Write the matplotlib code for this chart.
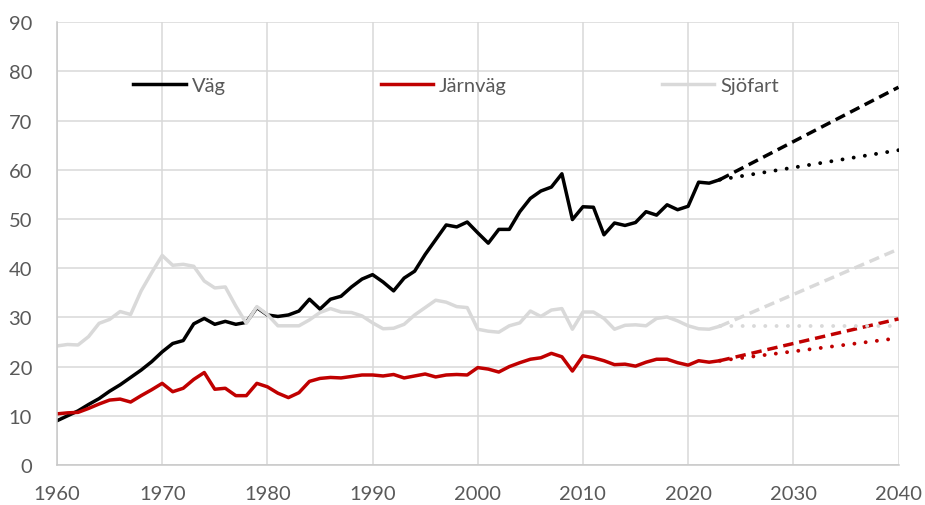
import numpy as np
import matplotlib.pyplot as plt

plt.rcParams['font.family'] = ['Lato', 'DejaVu Sans']

# Historical series 1960-2023
years = np.arange(1960, 2024)
vag = [9.0, 10.0, 11.0, 12.3, 13.5, 15.0, 16.3, 17.8, 19.3, 21.0,
       23.0, 24.7, 25.3, 28.7, 29.8, 28.6, 29.2, 28.6, 29.0, 32.0,
       30.5, 30.2, 30.5, 31.3, 33.7, 31.7, 33.7, 34.3, 36.2, 37.8,
       38.7, 37.2, 35.4, 38.0, 39.4, 42.8, 45.8, 48.8, 48.4, 49.4,
       47.2, 45.1, 47.9, 47.9, 51.5, 54.2, 55.7, 56.5, 59.2, 49.9,
       52.5, 52.4, 46.8, 49.2, 48.7, 49.3, 51.5, 50.8, 52.9, 51.9,
       52.6, 57.5, 57.3, 58.0]
jarnvag = [10.4, 10.6, 10.7, 11.5, 12.4, 13.2, 13.4, 12.8, 14.1, 15.3,
           16.6, 14.9, 15.6, 17.4, 18.8, 15.4, 15.6, 14.1, 14.1, 16.6,
           15.9, 14.6, 13.7, 14.7, 17.0, 17.6, 17.8, 17.7, 18.0, 18.3,
           18.3, 18.1, 18.4, 17.7, 18.1, 18.5, 17.9, 18.3, 18.4, 18.3,
           19.8, 19.5, 18.9, 20.0, 20.8, 21.5, 21.8, 22.7, 22.0, 19.1,
           22.2, 21.8, 21.2, 20.4, 20.5, 20.1, 20.9, 21.5, 21.5, 20.8,
           20.3, 21.2, 20.9, 21.2]
sjofart = [24.2, 24.5, 24.4, 26.1, 28.8, 29.6, 31.2, 30.6, 35.4, 39.1,
           42.6, 40.6, 40.8, 40.4, 37.4, 36.0, 36.2, 32.3, 28.8, 32.2,
           30.6, 28.3, 28.3, 28.3, 29.5, 31.0, 31.8, 31.1, 31.0, 30.3,
           28.9, 27.7, 27.8, 28.6, 30.5, 32.0, 33.5, 33.1, 32.2, 32.0,
           27.6, 27.2, 27.0, 28.3, 28.9, 31.3, 30.2, 31.5, 31.8, 27.6,
           31.1, 31.1, 29.8, 27.6, 28.4, 28.5, 28.3, 29.8, 30.1, 29.3,
           28.3, 27.7, 27.6, 28.2]

# Projections 2023-2040 (high = dashed, low = dotted)
proj_years = [2023, 2040]
vag_high = [58.0, 76.8]
vag_low = [58.0, 64.0]
jarnvag_high = [21.2, 29.7]
jarnvag_low = [21.2, 25.8]
sjofart_high = [28.2, 43.9]
sjofart_low = [28.2, 28.2]

names = ['Väg', 'Järnväg', 'Sjöfart']
colors = ['#000000', '#C00000', '#D9D9D9']
history = [vag, jarnvag, sjofart]
highs = [vag_high, jarnvag_high, sjofart_high]
lows = [vag_low, jarnvag_low, sjofart_low]

fig = plt.figure(figsize=(9.25, 5.06), dpi=100)
ax = fig.add_axes([57 / 925, 1 - 466 / 506, (898.5 - 57) / 925, (466 - 23.3) / 506])

lw = 2.5
for name, col, h, hi, lo in zip(names, colors, history, highs, lows):
    ax.plot(years, h, color=col, lw=lw, label=name, solid_joinstyle='round')
    ax.plot(proj_years, hi, color=col, lw=lw, linestyle=(0, (3.0, 1.7)))
    ax.plot(proj_years, lo, color=col, lw=2.8, linestyle=(0, (0.01, 2.9)),
            dash_capstyle='round')

ax.set_xlim(1960, 2040)
ax.set_ylim(0, 90)
ax.set_xticks(range(1960, 2041, 10))
ax.set_yticks(range(0, 91, 10))
ax.grid(True, color='#D9D9D9', lw=1.1)
ax.set_axisbelow(True)
for s in ['top', 'right']:
    ax.spines[s].set_visible(False)
ax.spines['left'].set_color('#C8C8C8')
ax.spines['bottom'].set_color('#C8C8C8')
ax.spines['left'].set_linewidth(1.1)
ax.spines['bottom'].set_linewidth(1.1)
ax.tick_params(length=0, labelsize=14.5, labelcolor='#595959')
ax.tick_params(axis='x', pad=14.5)
ax.tick_params(axis='y', pad=18)

ax.legend(loc='upper left', bbox_to_anchor=(0.081, 0.895), ncol=3, frameon=False,
          fontsize=14.5, labelcolor='#595959', handlelength=2.6,
          handletextpad=0.3, columnspacing=7.7, borderaxespad=0)

fig.savefig('out.png', dpi=100)
